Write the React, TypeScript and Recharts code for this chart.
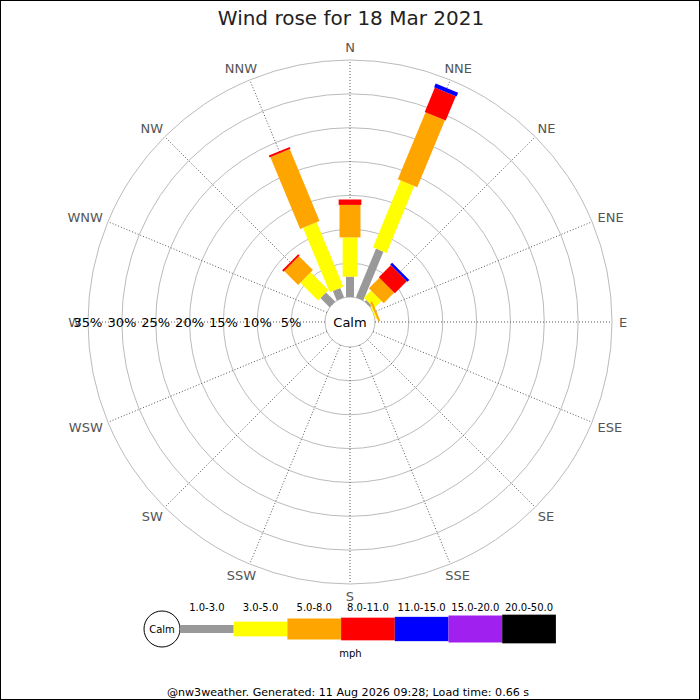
import React from 'react';
import { RadialBarChart, RadialBar, PolarAngleAxis, PolarRadiusAxis, PolarGrid } from 'recharts';

// ---- data ----
const directions = ['N', 'NNE', 'NE', 'ENE', 'E', 'ESE', 'SE', 'SSE', 'S', 'SSW', 'SW', 'WSW', 'W', 'WNW', 'NW', 'NNW'];
// percentage of time per direction, per speed band (mph)
const speed1to3 = [3.0, 7.8, 0.3, 0, 0, 0, 0, 0, 0, 0, 0, 0, 0, 0, 1.9, 1.5];
const speed3to5 = [5.8, 10.7, 1.5, 0.2, 0, 0, 0, 0, 0, 0, 0, 0, 0, 0, 3.7, 10.3];
const speed5to8 = [4.8, 10.7, 2.2, 0.3, 0, 0, 0, 0, 0, 0, 0, 0, 0, 0, 2.9, 11.5];
const speed8to11 = [0.8, 3.9, 2.5, 0, 0, 0, 0, 0, 0, 0, 0, 0, 0, 0, 0.3, 0.3];
const speed11to15 = [0, 0.6, 0.4, 0, 0, 0, 0, 0, 0, 0, 0, 0, 0, 0, 0, 0];
const speed15to20 = [0, 0, 0, 0, 0, 0, 0, 0, 0, 0, 0, 0, 0, 0, 0, 0];
const speed20to50 = [0, 0, 0, 0, 0, 0, 0, 0, 0, 0, 0, 0, 0, 0, 0, 0];
const rangeLabels = ['1.0-3.0', '3.0-5.0', '5.0-8.0', '8.0-11.0', '11.0-15.0', '15.0-20.0', '20.0-50.0'];
const radiusTicks = [0, 5, 10, 15, 20, 25, 30, 35];
const titleText = 'Wind rose for 18 Mar 2021';
const footerText = '@nw3weather. Generated: 11 Aug 2026 09:28; Load time: 0.66 s';

// ---- styles ----
const seriesValues = [speed1to3, speed3to5, speed5to8, speed8to11, speed11to15, speed15to20, speed20to50];
const seriesKeys = ['s1', 's2', 's3', 's4', 's5', 's6', 's7'];
const seriesColors = ['#999999', '#ffff00', '#ffa500', '#ff0000', '#0000ff', '#a020f0', '#000000'];
const seriesWidths = [8, 14.7, 21, 22.7, 24.3, 27, 28.7];
const FONT = '"DejaVu Sans", sans-serif';
const CX = 350;
const CY = 322;
const HALF_BAND = 180 / directions.length;
const START_ANGLE = 90 - HALF_BAND;
const gridAngles = directions.map((_, i) => 90 - (i * 360) / directions.length);

const data = directions.map((dir, i) => {
  const row: Record<string, any> = { dir };
  seriesKeys.forEach((k, j) => {
    row[k] = seriesValues[j][i];
  });
  return row;
});

const makeShape = (w: number) => (props: any) => {
  const { cx, cy, innerRadius, outerRadius, startAngle, endAngle, fill } = props;
  if (!(outerRadius - innerRadius > 0.05)) return <g />;
  const a = (((startAngle + endAngle) / 2) * Math.PI) / 180;
  const ux = Math.cos(a);
  const uy = -Math.sin(a);
  const vx = -uy;
  const vy = ux;
  const h = w / 2;
  const pts = [
    [cx + innerRadius * ux + h * vx, cy + innerRadius * uy + h * vy],
    [cx + outerRadius * ux + h * vx, cy + outerRadius * uy + h * vy],
    [cx + outerRadius * ux - h * vx, cy + outerRadius * uy - h * vy],
    [cx + innerRadius * ux - h * vx, cy + innerRadius * uy - h * vy],
  ];
  return <polygon points={pts.map((p) => p.join(',')).join(' ')} fill={fill} />;
};

const glyphW: Record<string, number> = { N: 0.748, E: 0.632, S: 0.635, W: 0.989 };

const AngleTick = (props: any) => {
  const { payload } = props;
  const cx = props.cx ?? CX;
  const cy = props.cy ?? CY;
  const rad = ((payload.coordinate + HALF_BAND) * Math.PI) / 180;
  const R = 269;
  const px = cx + R * Math.cos(rad);
  const py = cy - R * Math.sin(rad);
  const label = String(payload.value);
  const w = label.split('').reduce((s, c) => s + (glyphW[c] ?? 0.7), 0) * 13;
  const h = 11;
  const x = px + (w / 2) * Math.cos(rad);
  const y = py - (h / 2) * Math.sin(rad);
  return (
    <text x={x} y={y + 4.7} textAnchor="middle" fontSize={13} fontFamily={FONT} fill="#555">
      {label}
    </text>
  );
};

const RadiusTick = (props: any) => {
  const { x, y, payload } = props;
  if (payload.value === 0) return <g />;
  return (
    <text x={x} y={y + 4.7} textAnchor="middle" fontSize={13} fontFamily={FONT} fill="#000">
      {payload.value}%
    </text>
  );
};

const LEG_X0 = 180;
const LEG_W = 53.7;
const LEG_Y = 629;

export default function App() {
  return (
    <div style={{ position: 'absolute', left: 0, top: 0, width: 700, height: 700, background: '#fff' }}>
      <RadialBarChart
        width={700}
        height={700}
        data={data}
        layout="centric"
        cx={CX}
        cy={CY}
        innerRadius={25}
        outerRadius={262}
        startAngle={START_ANGLE}
        endAngle={START_ANGLE - 360}
        margin={{ top: 0, right: 0, bottom: 0, left: 0 }}
      >
        <PolarGrid gridType="circle" radialLines={false} stroke="#bbbbbb" />
        <PolarGrid
          gridType="circle"
          polarRadius={[]}
          polarAngles={gridAngles}
          radialLines
          stroke="#555555"
          strokeDasharray="1 2"
        />
        {seriesKeys.map((k, j) => (
          <RadialBar
            key={k}
            dataKey={k}
            stackId="a"
            fill={seriesColors[j]}
            isAnimationActive={false}
            shape={makeShape(seriesWidths[j])}
          />
        ))}
        <PolarAngleAxis type="category" dataKey="dir" axisLine={false} tickLine={false} tick={AngleTick} />
        <PolarRadiusAxis
          type="number"
          domain={[0, 35]}
          ticks={radiusTicks}
          angle={180}
          axisLine={false}
          tickLine={false}
          tick={RadiusTick}
        />
      </RadialBarChart>
      <svg
        width={700}
        height={700}
        style={{ position: 'absolute', left: 0, top: 0, pointerEvents: 'none' }}
        fontFamily={FONT}
      >
        <rect x={0.5} y={0.5} width={699} height={699} fill="none" stroke="#000" />
        <text x={351} y={24.5} textAnchor="middle" fontSize={20} fill="#222">
          {titleText}
        </text>
        <text x={350} y={327} textAnchor="middle" fontSize={13} fill="#000">
          Calm
        </text>
        {/* legend */}
        <circle cx={162} cy={LEG_Y} r={18} fill="#fff" stroke="#000" />
        <text x={162} y={633} textAnchor="middle" fontSize={10} fill="#000">
          Calm
        </text>
        {rangeLabels.map((lab, j) => (
          <g key={lab}>
            <rect
              x={LEG_X0 + j * LEG_W}
              y={LEG_Y - seriesWidths[j] / 2}
              width={LEG_W}
              height={seriesWidths[j]}
              fill={seriesColors[j]}
            />
            <text x={LEG_X0 + (j + 0.5) * LEG_W} y={611.3} textAnchor="middle" fontSize={10} fill="#000">
              {lab}
            </text>
          </g>
        ))}
        <text x={350.5} y={656.5} textAnchor="middle" fontSize={10} fill="#000">
          mph
        </text>
        <text x={348} y={696} textAnchor="middle" fontSize={11.1} fill="#000">
          {footerText}
        </text>
      </svg>
    </div>
  );
}
